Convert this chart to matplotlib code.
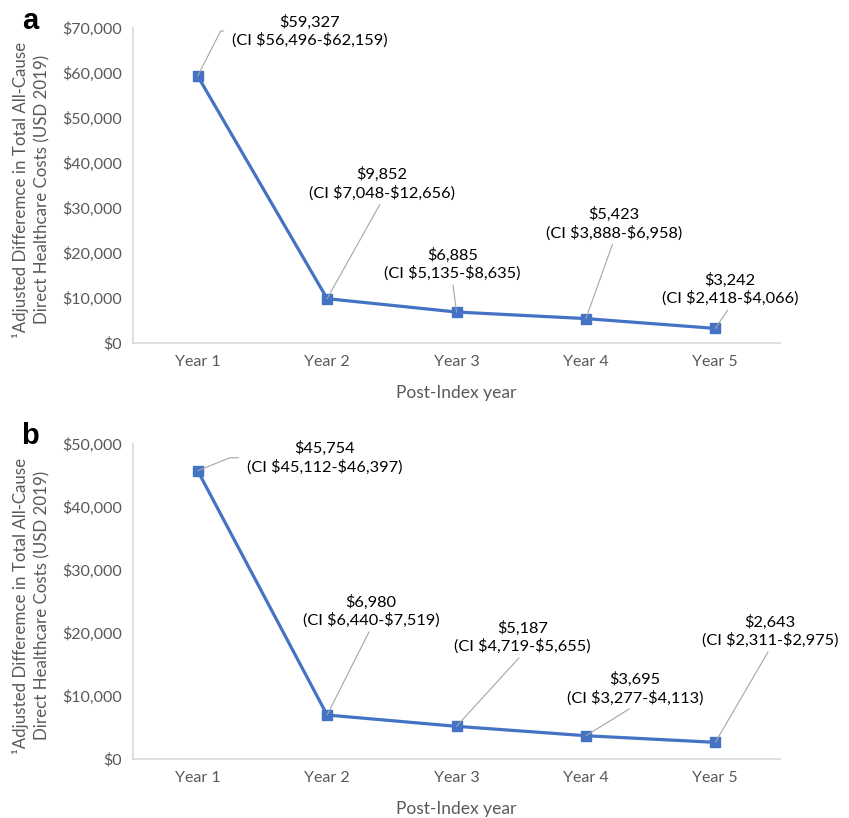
import matplotlib
matplotlib.use("Agg")
import matplotlib.pyplot as plt
from matplotlib.ticker import FuncFormatter, MultipleLocator

# ---------------- data ----------------
years = ["Year 1", "Year 2", "Year 3", "Year 4", "Year 5"]

costs_a = [59327, 9852, 6885, 5423, 3242]
ci_low_a = [56496, 7048, 5135, 3888, 2418]
ci_high_a = [62159, 12656, 8635, 6958, 4066]

costs_b = [45754, 6980, 5187, 3695, 2643]
ci_low_b = [45112, 6440, 4719, 3277, 2311]
ci_high_b = [46397, 7519, 5655, 4113, 2975]

ymax_a = 70000
ymax_b = 50000

ylabel = "\u00b9Adjusted Differemce in Total All-Cause\nDirect Healthcare Costs (USD 2019)"
xlabel = "Post-Index year"

# ---------------- style ----------------
FONT = ["Lato", "DejaVu Sans"]
plt.rcParams["font.family"] = FONT
LINE_C = "#4472C4"
SPINE_C = "#D9D9D9"
TICK_C = "#595959"
LEAD_C = "#A6A6A6"
PX = 0.72  # pixels -> points at dpi 100

W, H = 849, 818
fig = plt.figure(figsize=(W / 100, H / 100), dpi=100)


def make_axes(top_px, bottom_px):
    left, right = 133, 780
    return fig.add_axes([left / W, 1 - bottom_px / H, (right - left) / W, (bottom_px - top_px) / H])


ax_a = make_axes(28, 343)
ax_b = make_axes(444, 759)

# label offsets (pixels, text-block centre relative to marker), leader style
offs_a = [(112, 45), (55, 115), (-4, 48), (28, 95), (15, 39)]
offs_b = [(127, 13), (44, 104), (66, 89), (49, 47), (55, 111)]
angle_a = 63
angle_b = 22


def draw(ax, vals, lo, hi, ymax, offs, first_angle, letter, letter_y):
    x = list(range(len(years)))
    ax.plot(x, vals, color=LINE_C, lw=2.3, marker="s", ms=7.6,
            mfc=LINE_C, mec=LINE_C, zorder=3, solid_joinstyle="miter")
    ax.set_xlim(-0.5, len(years) - 0.5)
    ax.set_ylim(0, ymax)
    ax.set_xticks(x)
    ax.set_xticklabels(years)
    ax.yaxis.set_major_locator(MultipleLocator(10000))
    ax.yaxis.set_major_formatter(FuncFormatter(lambda v, p: "\\${:,.0f}".format(v)))
    for s in ("top", "right"):
        ax.spines[s].set_visible(False)
    for s in ("left", "bottom"):
        ax.spines[s].set_color(SPINE_C)
        ax.spines[s].set_linewidth(1.2)
    ax.tick_params(length=0, labelsize=11.5, labelcolor=TICK_C)
    ax.tick_params(axis="y", pad=8)
    ax.tick_params(axis="x", pad=9)
    ax.set_xlabel(xlabel, fontsize=12.5, color=TICK_C, labelpad=11)

    for i, (v, l, h) in enumerate(zip(vals, lo, hi)):
        txt = "${:,}\n(CI ${:,}-${:,})".format(v, l, h)
        dx, dy = offs[i]
        if i == 0:
            ap = dict(arrowstyle="-", color=LEAD_C, lw=0.8, relpos=(0, 0.5),
                      shrinkA=4, shrinkB=0,
                      connectionstyle="angle,angleA=0,angleB=%d,rad=0" % first_angle)
        else:
            ap = dict(arrowstyle="-", color=LEAD_C, lw=0.8, relpos=(0.5, 0),
                      shrinkA=1, shrinkB=0)
        ax.annotate(txt, xy=(i, v), xytext=(dx * PX, dy * PX),
                    textcoords="offset points", ha="center", va="center",
                    fontsize=11.8, color="black", linespacing=1.25,
                    arrowprops=ap, zorder=4, parse_math=False)

    fig.text(30 / W, 1 - letter_y / H, letter, fontsize=21, fontweight="bold",
             family=["Liberation Sans", "DejaVu Sans"], ha="center", va="center")


draw(ax_a, costs_a, ci_low_a, ci_high_a, ymax_a, offs_a, angle_a, "a", 21)
draw(ax_b, costs_b, ci_low_b, ci_high_b, ymax_b, offs_b, angle_b, "b", 436)

for top, bot in ((28, 343), (444, 759)):
    fig.text(31 / W, 1 - ((top + bot) / 2 + 4) / H, ylabel, rotation=90, ha="center",
             va="center", multialignment="center", fontsize=12.2, color=TICK_C,
             linespacing=1.4)

fig.savefig("out.png", dpi=100)
